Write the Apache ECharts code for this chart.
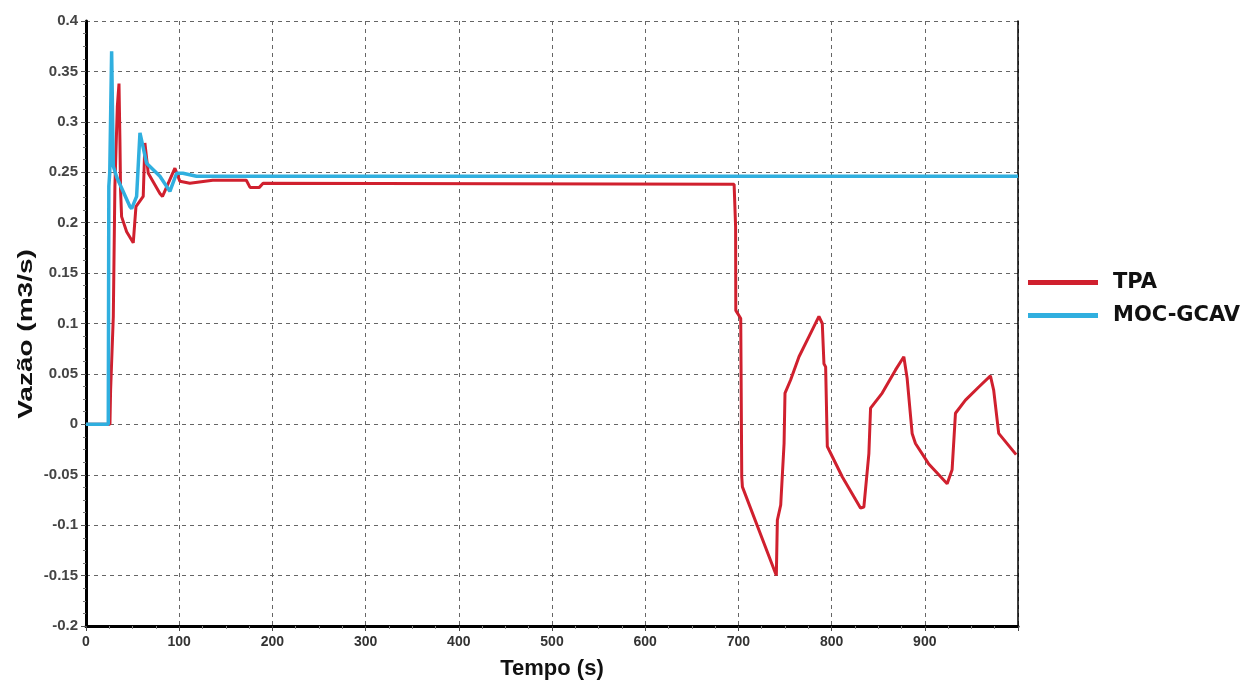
<!DOCTYPE html>
<html>
<head>
  <meta charset="utf-8" />
  <title>Vazão x Tempo</title>
  <script src="https://cdn.jsdelivr.net/npm/echarts@6/dist/echarts.min.js"></script>
  <style>
    html, body {
      margin: 0;
      padding: 0;
      background: #fff;
    }
    #main {
      width: 1252px;
      height: 686px;
    }
  </style>
</head>
<body>
<div id="main"></div>
<script>
  // dados (tempo em s, vazão em m3/s)
  var tpaTempo = [0, 25.7, 26.4, 29.3, 31, 33.6, 35.4, 36.4, 37.1, 38.2, 43.6, 50.7, 53.6, 61.4, 63.2,
    66.8, 79.3, 82.1, 95.4, 100.7, 111.4, 136, 172, 176, 186, 190, 695.4, 697, 697.2, 702.5, 703.6,
    704.3, 740.7, 741.8, 745.4, 749, 750, 756, 765, 775.7, 786.4, 790, 791.8, 793.6, 795.4, 811.4,
    831, 834.6, 840, 841.8, 854.3, 868.6, 877.5, 881, 886.4, 890, 904, 924, 929.3, 932.9, 943.6,
    957.9, 970.4, 973.9, 979.3, 998];
  var tpaVazao = [0, 0, 0.034, 0.107, 0.236, 0.315, 0.338, 0.282, 0.232, 0.206, 0.191, 0.180, 0.216, 0.226, 0.279,
    0.249, 0.229, 0.226, 0.254, 0.241, 0.239, 0.242, 0.242, 0.235, 0.235, 0.239, 0.238, 0.196, 0.113, 0.105, -0.052,
    -0.062, -0.150, -0.095, -0.080, -0.019, 0.031, 0.044, 0.067, 0.087, 0.107, 0.100, 0.060, 0.057, -0.022, -0.052,
    -0.083, -0.082, -0.029, 0.016, 0.031, 0.054, 0.067, 0.046, -0.009, -0.019, -0.039, -0.059, -0.045, 0.011, 0.024,
    0.037, 0.048, 0.034, -0.009, -0.030];

  var mocTempo = [0, 23.9, 24.5, 25.5, 27.5, 29.3, 33, 47.1, 49, 54.3, 57.9, 65, 79.3, 90, 97.2, 104, 118.6, 1000];
  var mocVazao = [0, 0, 0.236, 0.25, 0.370, 0.256, 0.245, 0.216, 0.214, 0.226, 0.289, 0.259, 0.246, 0.231, 0.249,
    0.249, 0.246, 0.246];

  var nomes = ['TPA', 'MOC-GCAV'];
  var cores = ['#d0202e', '#30afdf'];

  function juntar(t, v) {
    var out = [];
    for (var i = 0; i < t.length; i++) {
      out.push([t[i], v[i]]);
    }
    return out;
  }

  var myChart = echarts.init(document.getElementById('main'), null, { renderer: 'canvas' });

  var option = {
    animation: false,
    backgroundColor: '#fff',
    grid: { left: 86, right: 234, top: 21, bottom: 60 },
    legend: {
      data: nomes,
      orient: 'vertical',
      left: 1023,
      top: 267,
      icon: 'rect',
      itemWidth: 70,
      itemHeight: 5,
      itemGap: 12,
      textStyle: {
        color: '#111',
        fontSize: 21,
        fontWeight: 'bold',
        fontFamily: 'DejaVu Sans',
        padding: [0, 0, 0, 10]
      }
    },
    graphic: [{
      type: 'text',
      x: 26,
      y: 334,
      rotation: Math.PI / 2,
      scaleX: 1.4,
      style: {
        text: 'Vazão (m3/s)',
        font: 'bold 20px "Liberation Sans", Arial',
        fill: '#111',
        textAlign: 'center',
        textVerticalAlign: 'middle'
      }
    }],
    xAxis: {
      type: 'value',
      min: 0,
      max: 1000,
      interval: 100,
      name: 'Tempo (s)',
      nameLocation: 'middle',
      nameGap: 32,
      nameTextStyle: {
        color: '#111',
        fontSize: 22,
        fontWeight: 'bold',
        fontFamily: '"Liberation Sans", Arial'
      },
      axisLine: { onZero: false, lineStyle: { color: '#000', width: 3 } },
      axisTick: { length: 5, lineStyle: { color: '#444' } },
      minorTick: { show: true, splitNumber: 4, length: 3, lineStyle: { color: '#888' } },
      axisLabel: {
        margin: 9,
        color: '#333',
        fontSize: 14,
        fontWeight: 'bold',
        fontFamily: '"Liberation Sans", Arial',
        formatter: function (v) { return v === 1000 ? '' : String(v); }
      },
      splitLine: { show: true, lineStyle: { color: '#666', type: [4, 4], width: 1 } }
    },
    yAxis: [{
      type: 'value',
      min: -0.2,
      max: 0.4,
      interval: 0.05,
      axisLine: { show: true, onZero: false, lineStyle: { color: '#000', width: 3 } },
      axisTick: { show: true, length: 5, lineStyle: { color: '#555' } },
      minorTick: { show: true, splitNumber: 4, length: 3, lineStyle: { color: '#777' } },
      axisLabel: {
        margin: 8,
        color: '#444',
        fontSize: 15,
        fontWeight: 'bold',
        fontFamily: '"Liberation Sans", Arial',
        formatter: function (v) { return String(+v.toFixed(2)); }
      },
      splitLine: { show: true, lineStyle: { color: '#666', type: [4, 4], width: 1 } }
    }, {
      // borda direita do gráfico
      type: 'value',
      position: 'right',
      min: -0.2,
      max: 0.4,
      interval: 0.05,
      axisLine: { show: true, onZero: false, lineStyle: { color: '#000', width: 1.5 } },
      axisTick: { show: false },
      axisLabel: { show: false },
      splitLine: { show: false }
    }],
    series: [{
      name: nomes[0],
      type: 'line',
      data: juntar(tpaTempo, tpaVazao),
      showSymbol: false,
      color: cores[0],
      lineStyle: { color: cores[0], width: 3 }
    }, {
      name: nomes[1],
      type: 'line',
      data: juntar(mocTempo, mocVazao),
      showSymbol: false,
      color: cores[1],
      lineStyle: { color: cores[1], width: 3.5 }
    }]
  };

  myChart.setOption(option);
</script>
</body>
</html>
